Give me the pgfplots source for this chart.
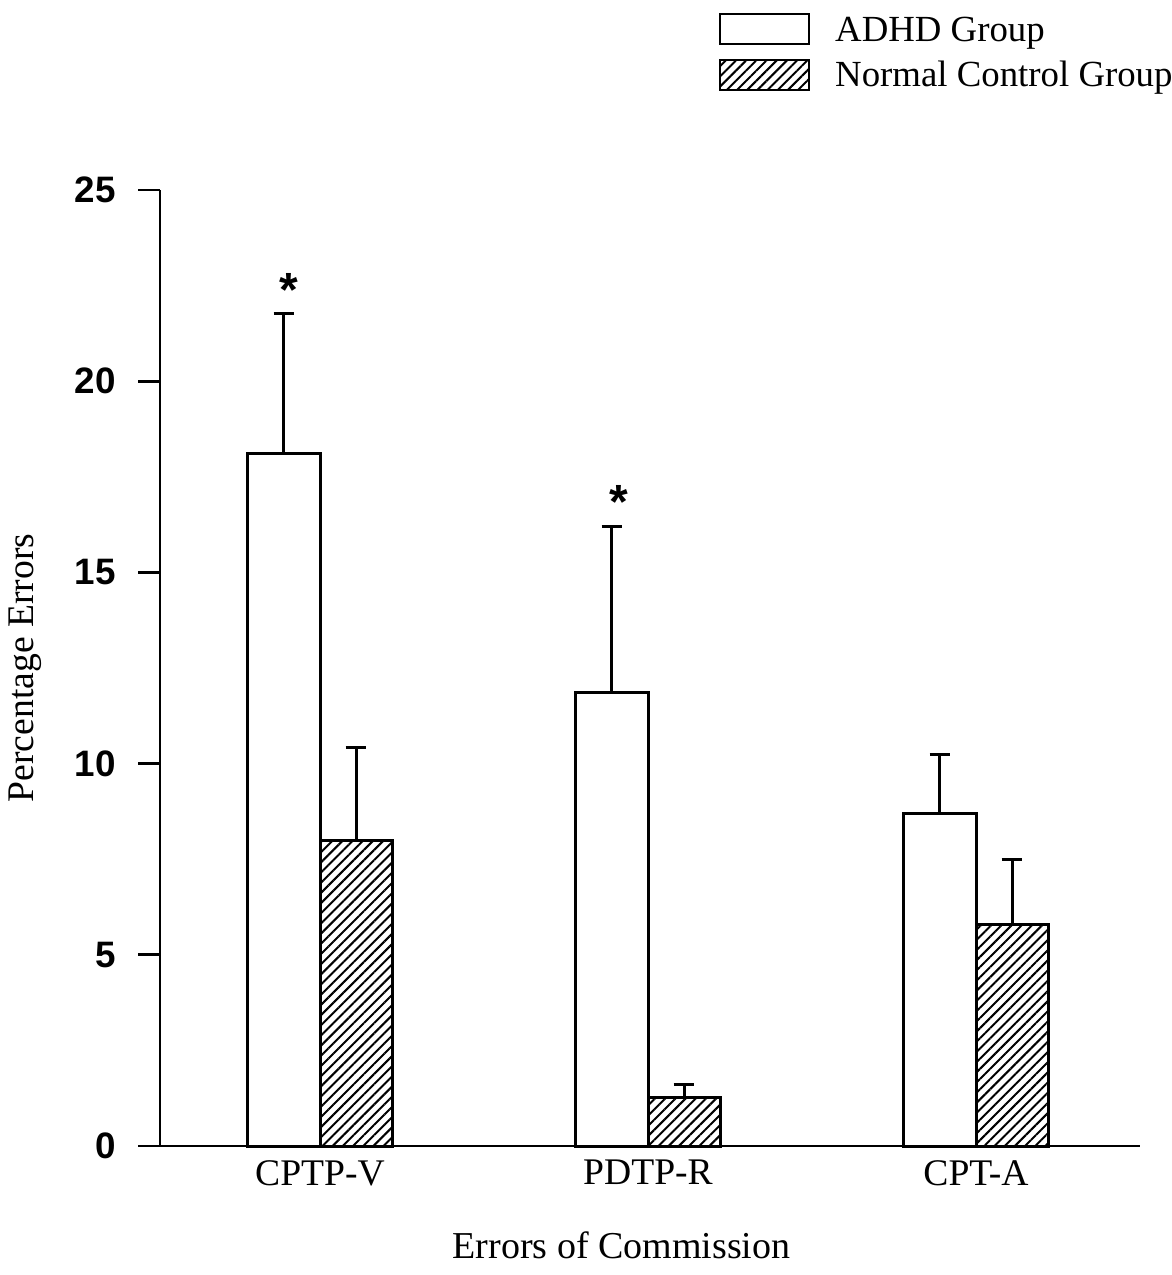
\documentclass[border=0pt]{standalone}
\usepackage{fontspec}
\setmainfont{Liberation Serif}
\newfontfamily\arial{Liberation Sans}
\usepackage{pgfplots}
\pgfplotsset{compat=1.18}
\usetikzlibrary{patterns.meta}

\begin{document}
\begin{tikzpicture}
\begin{axis}[
  scale only axis, width=245pt, height=239pt,
  xmin=-0.4878, xmax=2.5, ymin=0, ymax=25,
  axis x line=bottom, axis y line=left,
  axis line style={-, line width=0.7pt, black},
  ybar=0pt, bar width=0.22,
  xtick={0,1,2}, xticklabels={CPTP-V,PDTP-R,CPT-A},
  x tick style={draw=none},
  ytick={0,5,...,25},
  y tick style={line width=0.7pt, black},
  tick align=outside, major tick length=5.5pt,
  yticklabel style={font=\arial\bfseries\fontsize{9.2}{11}\selectfont, /pgf/number format/assume math mode=true, xshift=-2pt},
  xticklabel style={font=\fontsize{9.4}{11}\selectfont, yshift=5.5pt},
  xlabel={Errors of Commission},
  xlabel style={at={(axis description cs:0.471,-0.1036)}, anchor=center, font=\fontsize{9.5}{11}\selectfont},
  ylabel={Percentage Errors},
  ylabel style={at={(axis description cs:-0.137,0.5)}, anchor=center, font=\fontsize{9.4}{11}\selectfont},
  clip=false,
  legend style={at={(axis description cs:0.5694,1.1899)}, anchor=north west, draw=none, fill=none,
    inner sep=0pt, row sep=1.4pt,
    nodes={inner sep=0pt, text height=8pt, text depth=2pt, font=\fontsize{9.2}{11}\selectfont},
    /tikz/every odd column/.append style={column sep=6.25pt}},
  legend cell align=left,
  legend image code/.code={\draw[#1, line width=0.6pt] (0pt,-3.75pt) rectangle (22.25pt,3.75pt);},
  error bars/y dir=plus, error bars/y explicit,
  error bars/error bar style={line width=0.75pt, black, solid},
  error bars/error mark options={black, mark size=2.6pt, line width=0.75pt, rotate=90},
]
\addplot[draw=black, line width=0.75pt, fill=white]
  coordinates {(0,18.12) +- (0,3.66) (1,11.87) +- (0,4.32) (2,8.70) +- (0,1.55)};
\addlegendentry{ADHD Group}
\addplot[draw=black, line width=0.75pt, pattern={Lines[angle=45,distance=1.8pt,line width=0.5pt]}, pattern color=black]
  coordinates {(0,7.98) +- (0,2.43) (1,1.28) +- (0,0.32) (2,5.78) +- (0,1.72)};
\addlegendentry{Normal Control Group}
\node[font=\arial\bfseries\fontsize{12}{12}\selectfont, anchor=base, inner sep=0pt] at (axis cs:-0.095,21.95) {*};
\node[font=\arial\bfseries\fontsize{12}{12}\selectfont, anchor=base, inner sep=0pt] at (axis cs:0.91,16.4) {*};
\coordinate (bbsw) at (rel axis cs:-0.16327,-0.13494);
\coordinate (bbne) at (rel axis cs:1.03163,1.19874);
\end{axis}
\pgfresetboundingbox
\path[use as bounding box] (bbsw) rectangle (bbne);
\end{tikzpicture}
\end{document}
